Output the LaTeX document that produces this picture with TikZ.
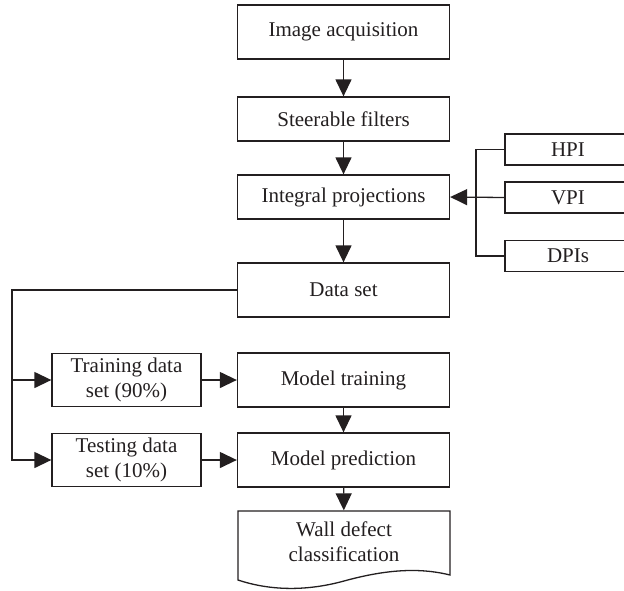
\documentclass[tikz,border=0pt]{standalone}
\usepackage{fontspec}
\setmainfont{Liberation Serif}
\usetikzlibrary{arrows.meta,positioning}

\definecolor{inkgray}{RGB}{35,31,32}

\tikzset{every picture/.style={line width=1.3pt}}

\begin{document}
\begin{tikzpicture}[x=1pt,y=1pt,yscale=-1,xscale=1,
    blockbox/.style={draw=inkgray,text=inkgray,inner sep=0pt,align=center,
        minimum width=212pt,minimum height=54pt,font=\fontsize{21}{25}\selectfont},
    slimbox/.style={blockbox,minimum height=44pt},
    sidebox/.style={blockbox,minimum width=149pt,minimum height=53pt},
    projbox/.style={blockbox,minimum width=126pt,minimum height=31pt},
    flow/.style={draw=inkgray,-{Triangle[length=17pt,width=16pt]}},
    link/.style={draw=inkgray}]
    \clip (0,0) rectangle (624,590);

    % main column
    \node [blockbox] (acq) at (343.5,32) {Image acquisition};
    \node [slimbox] (steer) at (343.5,119) {Steerable filters};
    \node [slimbox] (integ) at (343.5,197) {Integral projections};
    \node [blockbox] (data) at (343.5,290) {Data set};
    \node [blockbox] (mtrain) at (343.5,380) {Model training};
    \node [blockbox] (mpred) at (343.5,460) {Model prediction};

    % split of the data set
    \node [sidebox] (train) at (126.5,380) {Training data\\set (90\%)};
    \node [sidebox] (test) at (126.5,460) {Testing data\\set (10\%)};

    % projection types
    \node [projbox] (hpi) at (568,149.5) {HPI};
    \node [projbox] (vpi) at (568,197.5) {VPI};
    \node [projbox] (dpis) at (568,256) {DPIs};

    % output document
    \draw [link] (238,511) -- (450,511) -- (450,575)
        .. controls (418,567) and (384,570) .. (344,581)
        .. controls (304,592) and (268,590) .. (238,580) -- cycle ;
    \node [blockbox,draw=none,minimum height=62pt] (wall) at (344,542) {Wall defect\\classification};

    % vertical flow
    \draw [flow] (acq) -- (steer);
    \draw [flow] (steer) -- (integ);
    \draw [flow] (integ) -- (data);
    \draw [flow] (mtrain) -- (mpred);
    \draw [flow] (mpred) -- (wall);

    % bracket on the right
    \coordinate (joinR) at (476,197.5);
    \draw [link] (hpi.west) -| (joinR) |- (dpis.west);
    \draw [flow] (vpi.west) -- (integ.east);

    % bracket on the left
    \coordinate (joinL) at (12,380);
    \draw [link] (data.west) -| (joinL);
    \draw [flow] (joinL) -- (train.west);
    \draw [flow] (joinL) |- (test.west);
    \draw [flow] (train) -- (mtrain);
    \draw [flow] (test) -- (mpred);

\end{tikzpicture}
\end{document}
